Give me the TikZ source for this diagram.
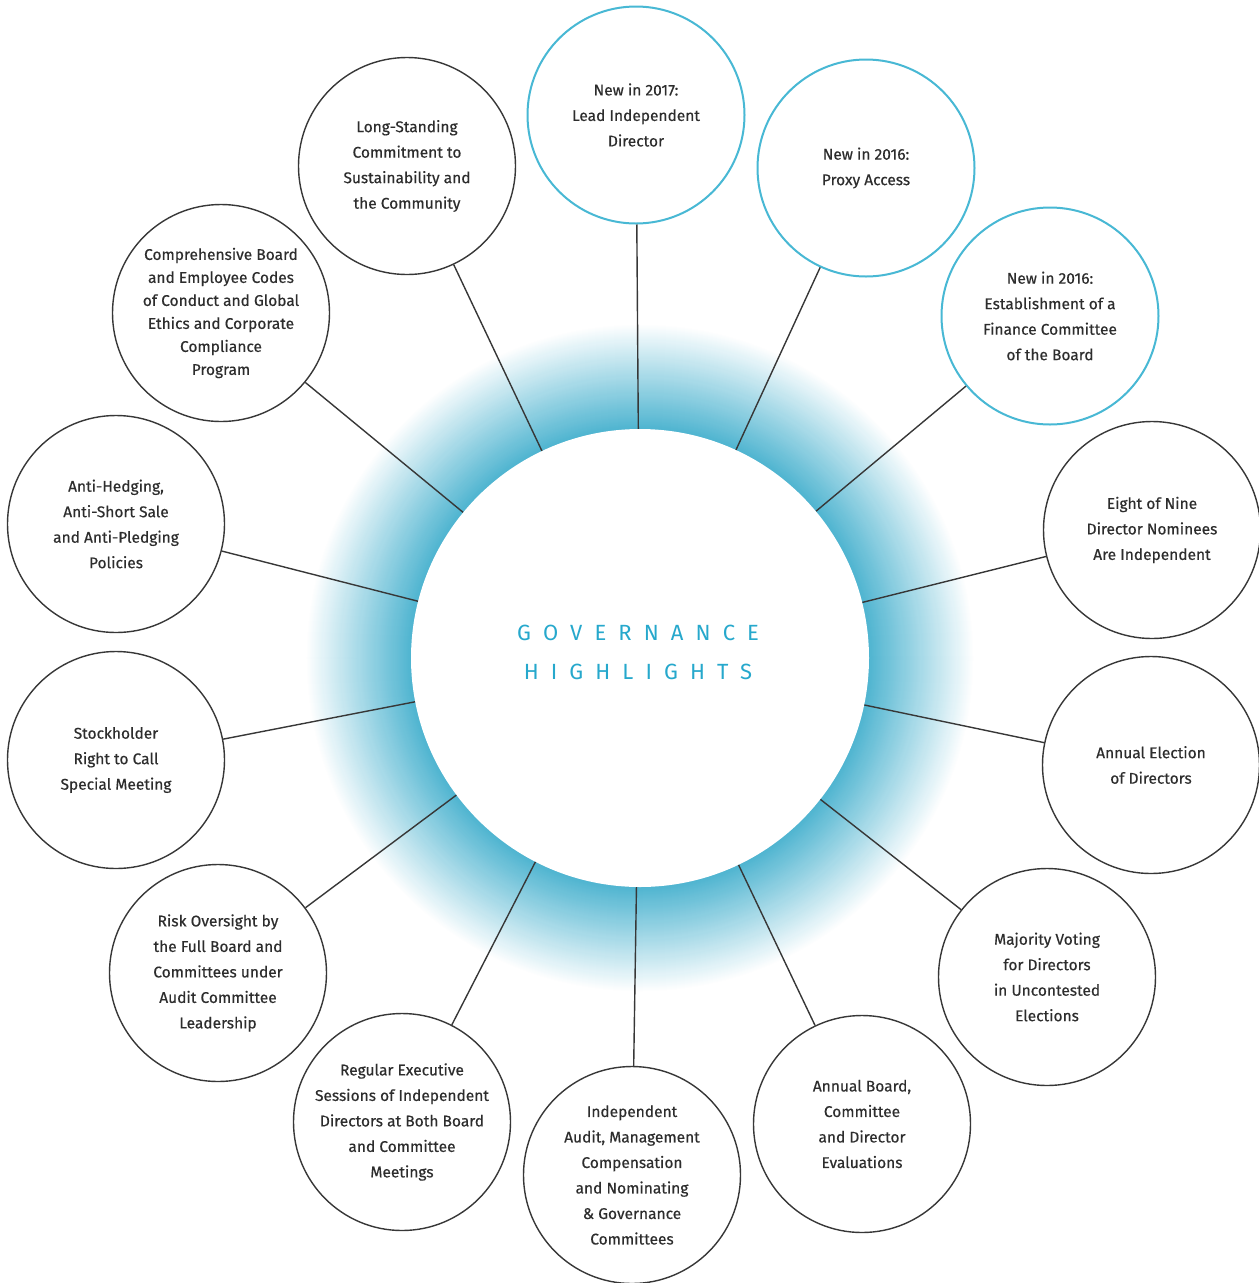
\documentclass[tikz,border=0pt]{standalone}
\usepackage{fontspec}
\setmainfont{Fira Sans}
\definecolor{glowcol}{RGB}{78,180,208}
\definecolor{newcol}{RGB}{72,184,212}
\definecolor{titlecol}{RGB}{38,168,204}
\definecolor{linecol}{RGB}{55,55,55}
\definecolor{txtcol}{RGB}{45,45,45}
\tikzset{
  hl/.style={circle, draw=linecol, line width=1.4bp, fill=white, minimum size=217bp,
    inner sep=0pt, align=center, text=txtcol,
    font=\fontsize{15.5bp}{25.5bp}\selectfont\addfontfeatures{FakeBold=0.4}},
  newhl/.style={hl, draw=newcol, line width=2bp},
  spoke/.style={draw=linecol, line width=1.4bp},
}

\begin{document}
\begin{tikzpicture}[x=1bp, y=-1bp]
\useasboundingbox (0,0) rectangle (1259,1283);

% glow round the middle
\foreach \r [evaluate=\r as \p using {int(100*(335-\r)/106)}] in {335,334,...,229}
  \fill[glowcol!\p!white] (640,658) circle (\r bp);

% middle circle
\node[circle, fill=white, minimum size=458bp, inner sep=0pt] (gov) at (640,658) {};
\node[align=center, text=titlecol, font=\fontsize{22bp}{39bp}\selectfont\addfontfeatures{LetterSpace=55}]
  (title) at (638,652) {GOVERNANCE\\HIGHLIGHTS};

% new ones (blue ring)
\node[newhl] (n1) at (636,115) {New in 2017:\\Lead Independent\\Director};
\node[newhl] (n2) at (866,168) {New in 2016:\\Proxy Access};
\node[newhl] (n3) at (1050,316) {New in 2016:\\Establishment of a\\Finance Committee\\of the Board};
% right side
\node[hl] (n4) at (1152,530) {Eight of Nine\\Director Nominees\\Are Independent};
\node[hl] (n5) at (1151,765) {Annual Election\\of Directors};
\node[hl] (n6) at (1047,977) {Majority Voting\\for Directors\\in Uncontested\\Elections};
% bottom
\node[hl] (n7) at (862,1124) {Annual Board,\\Committee\\and Director\\Evaluations};
\node[hl] (n8) at (632,1175) {Independent\\Audit, Management\\Compensation\\and Nominating\\\& Governance\\Committees};
\node[hl] (n9) at (402,1122) {Regular Executive\\Sessions of Independent\\Directors at Both Board\\and Committee\\Meetings};
% left side
\node[hl] (n10) at (218,973) {Risk Oversight by\\the Full Board and\\Committees under\\Audit Committee\\Leadership};
\node[hl] (n11) at (116,760) {Stockholder\\Right to Call\\Special Meeting};
\node[hl] (n12) at (116,524) {Anti-Hedging,\\Anti-Short Sale\\and Anti-Pledging\\Policies};
\node[hl, font=\fontsize{15.5bp}{23bp}\selectfont\addfontfeatures{FakeBold=0.4}] (n13) at (221,313)
  {Comprehensive Board\\and Employee Codes\\of Conduct and Global\\Ethics and Corporate\\Compliance\\Program};
\node[hl] (n14) at (407,166) {Long-Standing\\Commitment to\\Sustainability and\\the Community};

% spokes
\foreach \i in {1,...,14}
  \draw[spoke] (gov) -- (n\i);
\end{tikzpicture}
\end{document}
